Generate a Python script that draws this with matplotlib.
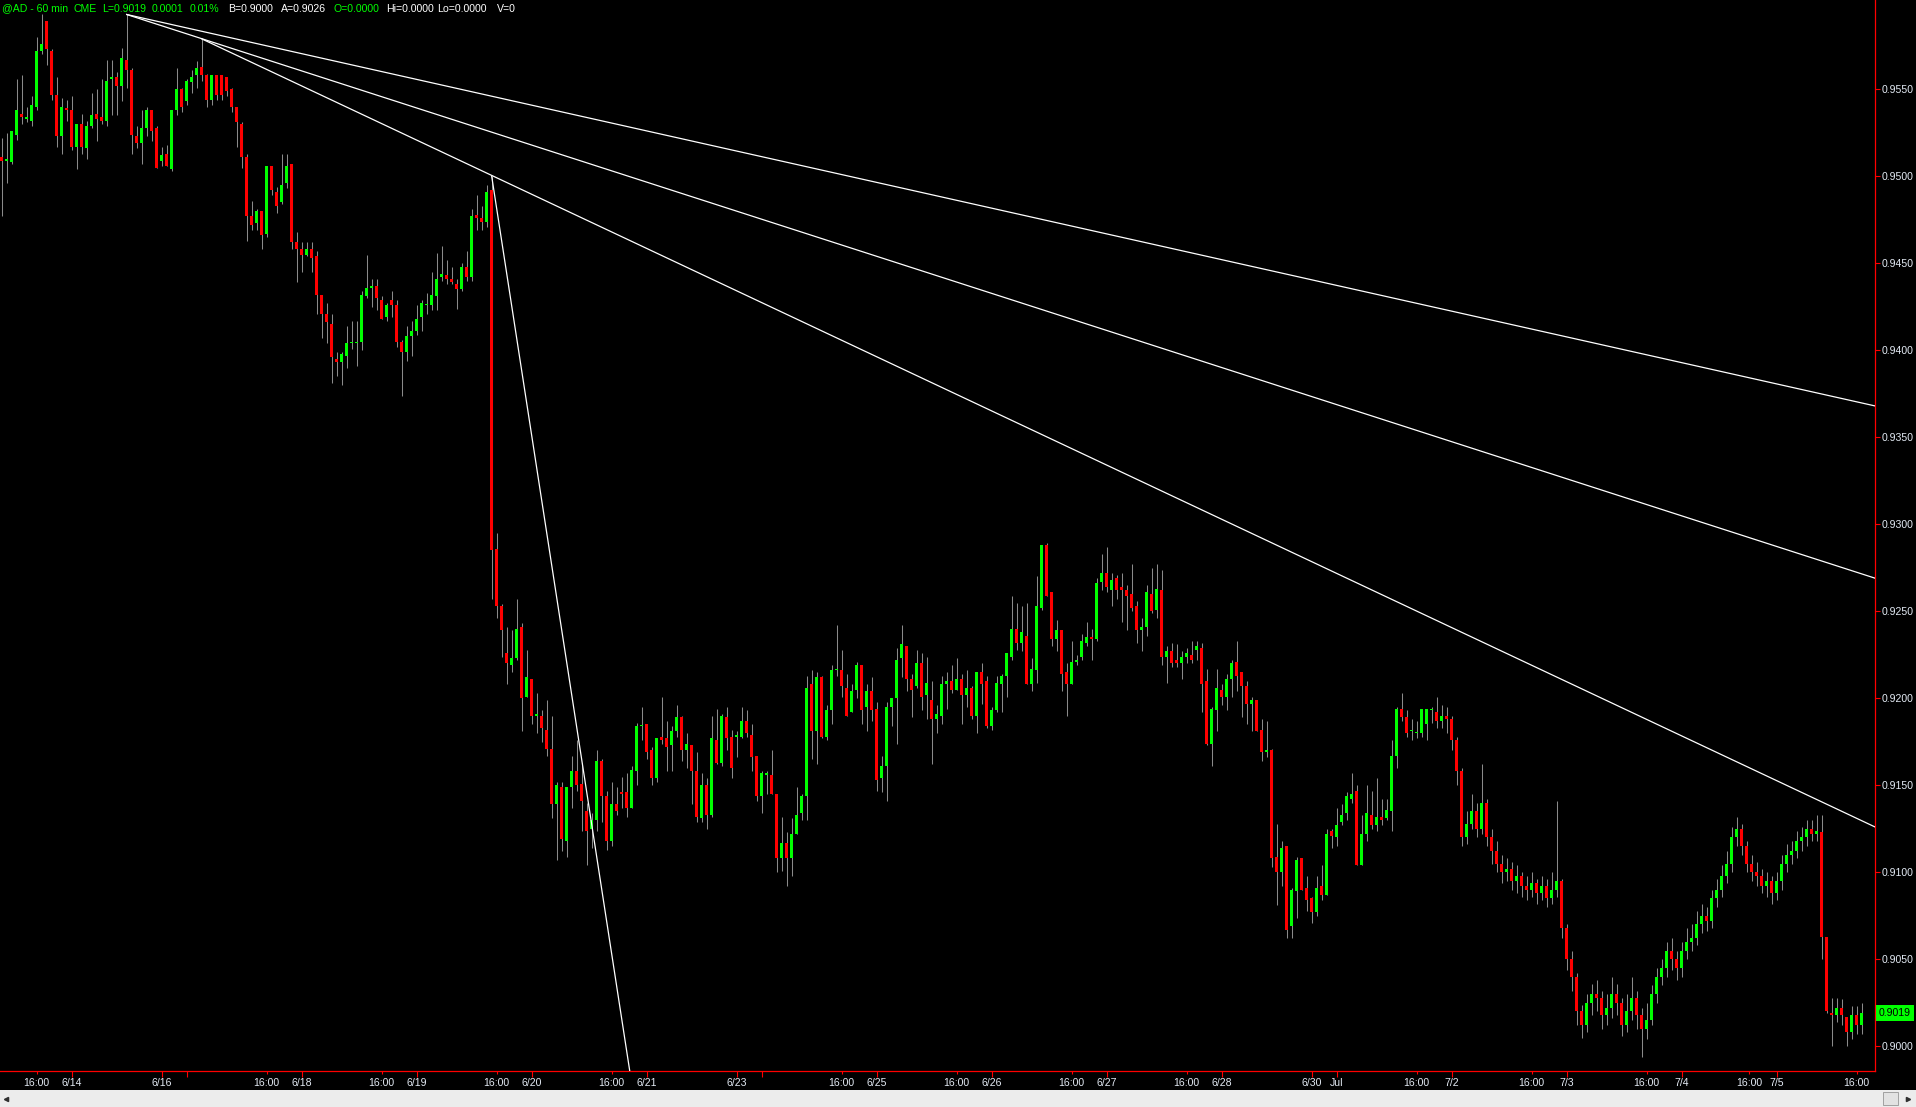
import numpy as np
import matplotlib
matplotlib.use("Agg")
import matplotlib.pyplot as plt
from matplotlib.patches import Rectangle
from matplotlib.lines import Line2D
from matplotlib.transforms import blended_transform_factory

# @AD 60 min bars, prices in pips (x 0.0001)
opens = [
    9511, 9509, 9508, 9524, 9536, 9533, 9532, 9540, 9572, 9589, 9572, 9547, 9523, 9539, 9538, 9517, 9530, 9516, 9529, 9536,
    9534, 9532, 9556, 9557, 9552, 9567, 9561, 9523, 9519, 9528, 9538, 9528, 9509, 9513, 9504, 9538, 9550, 9543, 9554, 9558,
    9563, 9558, 9544, 9558, 9558, 9557, 9550, 9540, 9530, 9511, 9477, 9473, 9480, 9467, 9506, 9491, 9485, 9496, 9507, 9462,
    9458, 9455, 9458, 9454, 9432, 9421, 9415, 9395, 9393, 9397, 9404, 9404, 9405, 9431, 9436, 9437, 9429, 9419, 9429, 9426,
    9405, 9399, 9408, 9411, 9419, 9426, 9426, 9431, 9442, 9443, 9441, 9438, 9435, 9448, 9442, 9478, 9476, 9474, 9492, 9286,
    9253, 9226, 9219, 9223, 9241, 9201, 9211, 9190, 9190, 9182, 9171, 9139, 9149, 9118, 9149, 9158, 9151, 9135, 9125, 9130,
    9164, 9144, 9118, 9139, 9146, 9146, 9137, 9158, 9184, 9185, 9170, 9154, 9178, 9177, 9173, 9181, 9189, 9170, 9173, 9158,
    9131, 9150, 9133, 9176, 9163, 9189, 9178, 9178, 9178, 9187, 9179, 9167, 9144, 9156, 9156, 9145, 9108, 9117, 9108, 9122,
    9134, 9144, 9208, 9181, 9212, 9178, 9193, 9216, 9216, 9206, 9192, 9205, 9219, 9195, 9204, 9194, 9154, 9161, 9195, 9200,
    9223, 9230, 9211, 9207, 9220, 9202, 9199, 9188, 9190, 9208, 9210, 9205, 9211, 9202, 9206, 9190, 9215, 9210, 9184, 9193,
    9208, 9213, 9224, 9240, 9232, 9236, 9208, 9216, 9252, 9288, 9261, 9234, 9239, 9215, 9208, 9221, 9224, 9232, 9235, 9234,
    9267, 9272, 9262, 9269, 9264, 9262, 9260, 9253, 9239, 9241, 9260, 9251, 9262, 9224, 9227, 9222, 9220, 9224, 9225, 9228,
    9229, 9210, 9174, 9193, 9205, 9201, 9211, 9221, 9215, 9207, 9197, 9199, 9182, 9169, 9170, 9109, 9100, 9115, 9069, 9089,
    9108, 9091, 9085, 9077, 9092, 9087, 9124, 9120, 9129, 9134, 9142, 9147, 9104, 9122, 9133, 9127, 9132, 9131, 9135, 9167,
    9194, 9189, 9181, 9180, 9180, 9185, 9193, 9192, 9187, 9190, 9188, 9176, 9158, 9120, 9128, 9135, 9125, 9140, 9120, 9112,
    9105, 9100, 9102, 9095, 9098, 9092, 9090, 9094, 9088, 9092, 9085, 9090, 9095, 9068, 9050, 9040, 9020, 9012, 9025, 9030,
    9028, 9018, 9022, 9030, 9025, 9012, 9020, 9028, 9018, 9010, 9015, 9030, 9040, 9045, 9055, 9050, 9045, 9055, 9060, 9062,
    9070, 9075, 9072, 9085, 9090, 9098, 9105, 9120, 9125, 9115, 9105, 9100, 9098, 9092, 9095, 9088, 9095, 9105, 9110, 9112,
    9118, 9120, 9125, 9122, 9123, 9063, 9019, 9018, 9022, 9017, 9008, 9018, 9012,
]
highs = [
    9522, 9525, 9526, 9556, 9558, 9540, 9546, 9580, 9593, 9589, 9573, 9557, 9545, 9544, 9546, 9530, 9536, 9532, 9548, 9550,
    9556, 9567, 9567, 9560, 9574, 9593, 9562, 9529, 9538, 9540, 9538, 9529, 9517, 9518, 9538, 9562, 9551, 9556, 9561, 9566,
    9579, 9559, 9558, 9558, 9558, 9557, 9551, 9540, 9531, 9513, 9486, 9481, 9480, 9506, 9506, 9494, 9513, 9513, 9507, 9468,
    9462, 9462, 9462, 9457, 9432, 9427, 9421, 9399, 9399, 9414, 9417, 9417, 9434, 9455, 9441, 9441, 9431, 9427, 9434, 9429,
    9406, 9414, 9417, 9426, 9429, 9433, 9445, 9456, 9460, 9452, 9448, 9441, 9450, 9457, 9481, 9489, 9483, 9495, 9500, 9295,
    9254, 9241, 9239, 9257, 9243, 9228, 9211, 9203, 9193, 9199, 9190, 9152, 9152, 9149, 9167, 9176, 9163, 9140, 9134, 9170,
    9165, 9147, 9152, 9149, 9155, 9157, 9161, 9186, 9195, 9185, 9172, 9177, 9201, 9187, 9184, 9196, 9190, 9180, 9173, 9169,
    9157, 9154, 9190, 9194, 9191, 9195, 9182, 9181, 9195, 9193, 9185, 9167, 9158, 9158, 9170, 9145, 9132, 9123, 9131, 9149,
    9145, 9213, 9216, 9215, 9213, 9196, 9219, 9242, 9228, 9214, 9208, 9221, 9219, 9208, 9212, 9198, 9167, 9198, 9200, 9229,
    9242, 9230, 9214, 9228, 9226, 9224, 9210, 9196, 9213, 9215, 9219, 9223, 9214, 9216, 9207, 9215, 9220, 9213, 9195, 9213,
    9214, 9226, 9259, 9255, 9253, 9255, 9223, 9270, 9288, 9289, 9261, 9245, 9239, 9220, 9233, 9225, 9237, 9244, 9240, 9269,
    9283, 9287, 9272, 9271, 9272, 9265, 9277, 9256, 9246, 9265, 9275, 9277, 9274, 9230, 9232, 9231, 9227, 9229, 9233, 9233,
    9232, 9217, 9195, 9217, 9208, 9214, 9222, 9233, 9215, 9210, 9201, 9199, 9188, 9187, 9171, 9128, 9118, 9115, 9091, 9109,
    9108, 9098, 9086, 9098, 9104, 9125, 9125, 9137, 9139, 9146, 9157, 9150, 9133, 9150, 9147, 9154, 9142, 9142, 9176, 9195,
    9203, 9193, 9188, 9187, 9194, 9194, 9195, 9201, 9196, 9195, 9190, 9178, 9160, 9135, 9145, 9140, 9162, 9142, 9125, 9118,
    9110, 9108, 9106, 9104, 9100, 9098, 9100, 9096, 9098, 9096, 9100, 9141, 9096, 9070, 9055, 9042, 9024, 9030, 9036, 9038,
    9032, 9030, 9040, 9036, 9028, 9030, 9040, 9032, 9022, 9025, 9035, 9045, 9050, 9060, 9062, 9055, 9060, 9068, 9070, 9078,
    9082, 9080, 9090, 9096, 9104, 9112, 9126, 9132, 9128, 9118, 9110, 9106, 9102, 9100, 9098, 9100, 9110, 9116, 9118, 9124,
    9126, 9130, 9130, 9133, 9133, 9063, 9028, 9028, 9027, 9017, 9023, 9023, 9025,
]
lows = [
    9477, 9496, 9507, 9521, 9530, 9531, 9529, 9538, 9570, 9564, 9544, 9517, 9513, 9532, 9515, 9504, 9513, 9510, 9528, 9520,
    9530, 9529, 9535, 9535, 9543, 9551, 9513, 9516, 9507, 9523, 9520, 9505, 9506, 9506, 9503, 9535, 9537, 9541, 9548, 9551,
    9555, 9540, 9541, 9544, 9544, 9546, 9537, 9517, 9505, 9463, 9469, 9469, 9458, 9465, 9489, 9479, 9484, 9493, 9458, 9439,
    9445, 9454, 9445, 9421, 9407, 9404, 9381, 9385, 9380, 9390, 9401, 9391, 9400, 9430, 9425, 9423, 9418, 9417, 9419, 9402,
    9374, 9394, 9397, 9409, 9411, 9421, 9423, 9423, 9440, 9438, 9438, 9424, 9434, 9440, 9440, 9469, 9469, 9471, 9257, 9246,
    9224, 9208, 9215, 9222, 9181, 9201, 9185, 9180, 9175, 9167, 9131, 9107, 9112, 9109, 9137, 9147, 9124, 9104, 9114, 9124,
    9129, 9113, 9115, 9133, 9137, 9132, 9137, 9150, 9176, 9165, 9150, 9152, 9174, 9158, 9158, 9178, 9164, 9160, 9139, 9129,
    9129, 9125, 9132, 9162, 9161, 9170, 9154, 9166, 9177, 9178, 9158, 9141, 9134, 9145, 9145, 9100, 9101, 9092, 9098, 9122,
    9130, 9130, 9165, 9162, 9177, 9176, 9185, 9213, 9201, 9190, 9192, 9200, 9185, 9181, 9187, 9147, 9146, 9141, 9184, 9174,
    9212, 9204, 9189, 9206, 9193, 9188, 9162, 9180, 9185, 9194, 9203, 9205, 9185, 9195, 9188, 9180, 9197, 9183, 9182, 9192,
    9192, 9201, 9222, 9228, 9227, 9208, 9204, 9209, 9251, 9259, 9230, 9227, 9204, 9190, 9208, 9219, 9222, 9230, 9222, 9233,
    9262, 9261, 9253, 9257, 9244, 9239, 9250, 9232, 9227, 9236, 9249, 9246, 9219, 9209, 9218, 9218, 9211, 9220, 9220, 9222,
    9192, 9173, 9161, 9181, 9196, 9193, 9201, 9204, 9189, 9185, 9181, 9181, 9164, 9166, 9103, 9081, 9092, 9062, 9062, 9074,
    9090, 9078, 9071, 9075, 9084, 9087, 9114, 9115, 9127, 9130, 9140, 9104, 9104, 9118, 9125, 9124, 9127, 9130, 9124, 9160,
    9187, 9178, 9176, 9177, 9178, 9176, 9186, 9183, 9183, 9180, 9170, 9150, 9115, 9116, 9125, 9120, 9122, 9115, 9105, 9100,
    9094, 9095, 9090, 9088, 9086, 9084, 9086, 9082, 9084, 9080, 9082, 9086, 9062, 9044, 9032, 9012, 9005, 9008, 9018, 9020,
    9010, 9012, 9016, 9018, 9006, 9008, 9015, 9010, 8994, 9004, 9012, 9025, 9035, 9040, 9044, 9038, 9040, 9050, 9055, 9058,
    9065, 9066, 9068, 9080, 9086, 9094, 9100, 9115, 9110, 9100, 9095, 9092, 9088, 9086, 9082, 9084, 9090, 9100, 9105, 9108,
    9112, 9115, 9118, 9118, 9050, 9019, 9000, 9014, 9012, 9000, 9004, 9007, 9007,
]
closes = [
    9509, 9510, 9526, 9538, 9534, 9533, 9541, 9572, 9576, 9573, 9547, 9523, 9540, 9538, 9517, 9530, 9517, 9529, 9535, 9533,
    9532, 9555, 9557, 9552, 9568, 9561, 9524, 9519, 9528, 9538, 9526, 9505, 9512, 9506, 9538, 9550, 9540, 9555, 9557, 9562,
    9558, 9544, 9558, 9547, 9547, 9549, 9540, 9531, 9511, 9477, 9472, 9480, 9466, 9506, 9492, 9483, 9495, 9506, 9462, 9458,
    9455, 9458, 9453, 9432, 9421, 9416, 9396, 9393, 9398, 9404, 9404, 9405, 9432, 9436, 9437, 9430, 9418, 9426, 9426, 9405,
    9399, 9408, 9411, 9418, 9427, 9426, 9432, 9441, 9444, 9441, 9439, 9435, 9448, 9442, 9477, 9476, 9474, 9491, 9285, 9253,
    9239, 9220, 9223, 9240, 9200, 9212, 9190, 9190, 9183, 9171, 9139, 9150, 9119, 9149, 9158, 9150, 9141, 9124, 9130, 9164,
    9144, 9118, 9139, 9135, 9145, 9137, 9159, 9184, 9184, 9169, 9154, 9177, 9176, 9172, 9181, 9189, 9170, 9174, 9158, 9132,
    9150, 9133, 9177, 9163, 9190, 9177, 9160, 9178, 9187, 9180, 9166, 9144, 9157, 9157, 9145, 9108, 9117, 9108, 9122, 9133,
    9144, 9206, 9181, 9212, 9178, 9193, 9216, 9216, 9207, 9190, 9204, 9219, 9193, 9204, 9193, 9153, 9161, 9195, 9200, 9222,
    9231, 9211, 9205, 9220, 9201, 9209, 9188, 9191, 9208, 9210, 9205, 9211, 9202, 9206, 9190, 9215, 9208, 9184, 9193, 9209,
    9213, 9226, 9240, 9232, 9238, 9208, 9217, 9253, 9288, 9259, 9234, 9239, 9214, 9208, 9221, 9222, 9233, 9235, 9234, 9266,
    9272, 9264, 9268, 9262, 9262, 9259, 9252, 9239, 9241, 9261, 9250, 9263, 9224, 9227, 9220, 9220, 9224, 9226, 9222, 9230,
    9208, 9174, 9194, 9206, 9201, 9211, 9220, 9213, 9207, 9197, 9199, 9181, 9169, 9170, 9108, 9100, 9114, 9067, 9090, 9107,
    9090, 9084, 9077, 9091, 9087, 9122, 9121, 9127, 9133, 9144, 9145, 9104, 9122, 9134, 9127, 9132, 9130, 9136, 9167, 9194,
    9189, 9180, 9181, 9180, 9194, 9194, 9193, 9187, 9190, 9188, 9176, 9158, 9120, 9128, 9135, 9125, 9140, 9120, 9112, 9105,
    9100, 9102, 9095, 9098, 9092, 9090, 9094, 9088, 9092, 9085, 9090, 9095, 9068, 9050, 9040, 9020, 9012, 9025, 9030, 9028,
    9018, 9022, 9030, 9025, 9012, 9020, 9028, 9018, 9010, 9015, 9030, 9040, 9045, 9055, 9050, 9045, 9055, 9060, 9062, 9070,
    9075, 9072, 9085, 9090, 9098, 9105, 9120, 9125, 9115, 9105, 9100, 9098, 9092, 9095, 9088, 9095, 9105, 9110, 9112, 9118,
    9120, 9125, 9122, 9124, 9063, 9020, 9018, 9022, 9018, 9008, 9018, 9012, 9019,
]

# time axis (bar index of each label)
date_ticks = [14, 32, 37, 60, 83, 106, 129, 147, 152, 175, 198, 221, 244, 262, 267, 290, 313, 336, 355]
date_labels = ["6/14", "6/16", "", "6/18", "6/19", "6/20", "6/21", "6/23", "", "6/25", "6/26",
               "6/27", "6/28", "6/30", "Jul", "7/2", "7/3", "7/4", "7/5"]
hour_ticks = [7, 53, 76, 99, 122, 168, 191, 214, 237, 283, 306, 329, 349.5, 371]
price_ticks = [0.9000, 0.9050, 0.9100, 0.9150, 0.9200, 0.9250, 0.9300,
               0.9350, 0.9400, 0.9450, 0.9500, 0.9550]

# drawn trendlines: start (bar, price) -> end (bar, price)
tl_x0 = [25, 25, 40, 98]
tl_y0 = [0.9593, 0.9593, 0.9579, 0.9500]
tl_x1 = [374.7, 374.7, 374.7, 125.6]
tl_y1 = [0.9368, 0.9269, 0.9126, 0.8986]

header = [("@AD - 60 min", 1.5, "g"), ("CME", 74, "g"), ("L=0.9019", 102, "g"),
          ("0.0001", 152, "g"), ("0.01%", 190, "g"), ("B=0.9000", 228.5, "w"),
          ("A=0.9026", 280.5, "w"), ("O=0.0000", 334, "g"), ("Hi=0.0000", 386.5, "w"),
          ("Lo=0.0000", 437, "w"), ("V=0", 496.7, "w")]

GREEN = "#00ff00"
RED = "#ff0000"
LABEL = "#e4ebf5"
W, H = 1916, 1107

plt.rcParams["font.family"] = ["Liberation Sans", "DejaVu Sans"]

o = np.array(opens) / 10000
h = np.array(highs) / 10000
l = np.array(lows) / 10000
c = np.array(closes) / 10000
x = np.arange(len(o))

fig = plt.figure(figsize=(W / 100, H / 100), dpi=100, facecolor="black")
ax = fig.add_axes([0, 36 / H, 1875.3 / W, 1071 / H])
ax.set_facecolor("black")

# candles
up = c >= o
cols = np.where(up, GREEN, RED)
ax.vlines(x, l, h, color="#8a8a8a", lw=0.75, zorder=1)
body_h = np.maximum(np.abs(c - o), 0.00008)
ax.bar(x, body_h, bottom=np.minimum(o, c), width=0.6, color=cols, linewidth=0, zorder=2)

# trendlines
for i in range(len(tl_x0)):
    ax.plot([tl_x0[i], tl_x1[i]], [tl_y0[i], tl_y1[i]], color="white", lw=0.9, zorder=3)

ax.set_xlim(-0.34, 374.72)
ax.set_ylim(0.89858, 0.960132)

for side in ["left", "top"]:
    ax.spines[side].set_visible(False)
for side in ["right", "bottom"]:
    ax.spines[side].set_color(RED)
    ax.spines[side].set_linewidth(0.9)

# price axis on the right
ax.yaxis.tick_right()
ax.set_yticks(price_ticks)
ax.set_yticklabels([f"{p:.4f}" for p in price_ticks])
ax.tick_params(axis="y", which="major", color=RED, length=3.6, width=0.8, pad=0.6,
               labelsize=7.6, labelcolor=LABEL)

# time axis
ax.set_xticks(date_ticks)
ax.set_xticklabels(date_labels)
ax.set_xticks(hour_ticks, minor=True)
ax.set_xticklabels(["16:00"] * len(hour_ticks), minor=True)
ax.tick_params(axis="x", which="major", color=RED, length=4.3, width=0.8, pad=0.4,
               labelsize=7.6, labelcolor=LABEL)
ax.tick_params(axis="x", which="minor", color=RED, length=2.2, width=0.8, pad=2.5,
               labelsize=7.6, labelcolor=LABEL)

# last price marker
trans = blended_transform_factory(ax.transAxes, ax.transData)
ax.text(1.0 + 3.5 / 1875.3, c[-1], f"{c[-1]:.4f}", transform=trans, ha="left", va="center",
        fontsize=7.6, color="black", clip_on=False, zorder=5,
        bbox=dict(boxstyle="square,pad=0.3", fc=GREEN, ec="none"))

# header line
for txt, px, col in header:
    fig.text(px / W, 1 - 8.5 / H, txt, color=GREEN if col == "g" else "white",
             fontsize=7.6, ha="left", va="center")

# scrollbar strip at the bottom
fig.patches.append(Rectangle((0, 0), 1, 17 / H, transform=fig.transFigure,
                             fc="#ececec", ec="none", zorder=0))
fig.patches.append(Rectangle((1883 / W, 2 / H), 15 / W, 13 / H, transform=fig.transFigure,
                             fc="#e2e2e2", ec="#a0a0a0", lw=0.7, zorder=1))
fig.add_artist(Line2D([6 / W], [8.5 / H], marker="<", ms=3, color="#303030",
                      transform=fig.transFigure, linestyle="none"))
fig.add_artist(Line2D([1908 / W], [8.5 / H], marker=">", ms=3, color="#303030",
                      transform=fig.transFigure, linestyle="none"))

fig.savefig("out.png", dpi=100, facecolor="black")
